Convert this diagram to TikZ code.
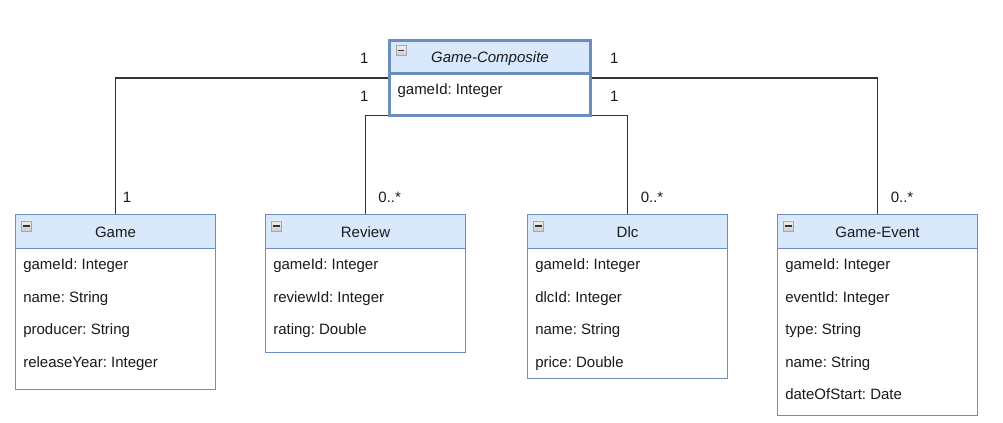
\documentclass[tikz,border=0pt]{standalone}
\usepackage{fontspec}
\setmainfont{Liberation Sans}
\usepackage{tikz}
\usetikzlibrary{calc,backgrounds}
\frenchspacing

\definecolor{umlline}{HTML}{6C8EBF}
\definecolor{umlfill}{HTML}{DAE8FC}
\definecolor{linkgray}{HTML}{333333}
\definecolor{textgray}{HTML}{1A1A1A}

\tikzset{
  every node/.style={font=\fontsize{11.25}{13.5}\selectfont, text=textgray},
  classbody/.style={draw=umlline, fill=white, line width=0.75pt, outer sep=0pt,
    inner sep=0pt, anchor=north, minimum width=150pt, minimum height=#1*0.75pt},
  classhead/.style={draw=umlline, fill=umlfill, line width=0.75pt, outer sep=0pt,
    inner sep=0pt, anchor=north, minimum width=150pt, minimum height=25.1pt,
    text height=8pt, text depth=0pt},
  collapse/.style={draw=gray!70, top color=gray!12, bottom color=gray!40,
    line width=0.5pt, inner sep=0pt, minimum size=7.5pt,
    path picture={\draw[linkgray, line width=0.9pt]
      ([xshift=1.3pt]path picture bounding box.west) --
      ([xshift=-1.3pt]path picture bounding box.east);}},
  attr/.style={anchor=base west, inner sep=0pt},
  mult/.style={anchor=base, inner sep=0pt},
  link/.style={draw=linkgray, line width=1pt},
}

\begin{document}
\begin{tikzpicture}[x=0.75pt, y=-0.75pt]
  \useasboundingbox (0,0) rectangle (1003,423);

  % composite key
  \node[classbody=74.7, line width=2.25pt, minimum width=150.3pt] (comp) at (490,40.5) {};
  \node[classhead, line width=2.25pt, minimum width=150.3pt, minimum height=24.6pt]
    (comp-head) at (comp.north) {\itshape Game-Composite};
  \node[collapse] (comp-icon) at ($(comp.north west)+(11.2,10)$) {};
  \node[attr] (comp-a1) at ($(comp.north west)+(7.5,53.8)$) {gameId: Integer};

  % classes
  \node[classbody=175] (game) at (115.5,215) {};
  \node[classhead] (game-head) at (game.north) {Game};
  \node[collapse] (game-icon) at ($(game.north west)+(11,11)$) {};
  \foreach \t [count=\i] in {gameId: Integer, name: String, producer: String, releaseYear: Integer}
    \node[attr] (game-a\i) at ($(game.north west)+(7.5,22.5+32.5*\i)$) {\t};

  \node[classbody=137.7] (review) at (365.5,215) {};
  \node[classhead] (review-head) at (review.north) {Review};
  \node[collapse] (review-icon) at ($(review.north west)+(11,11)$) {};
  \foreach \t [count=\i] in {gameId: Integer, reviewId: Integer, rating: Double}
    \node[attr] (review-a\i) at ($(review.north west)+(7.5,22.5+32.5*\i)$) {\t};

  \node[classbody=163.3] (dlc) at (627.5,215) {};
  \node[classhead] (dlc-head) at (dlc.north) {Dlc};
  \node[collapse] (dlc-icon) at ($(dlc.north west)+(11,11)$) {};
  \foreach \t [count=\i] in {gameId: Integer, dlcId: Integer, name: String, price: Double}
    \node[attr] (dlc-a\i) at ($(dlc.north west)+(7.5,22.5+32.5*\i)$) {\t};

  \node[classbody=200.7] (event) at (877.5,215) {};
  \node[classhead] (event-head) at (event.north) {Game-Event};
  \node[collapse] (event-icon) at ($(event.north west)+(11,11)$) {};
  \foreach \t [count=\i] in {gameId: Integer, eventId: Integer, type: String, name: String, dateOfStart: Date}
    \node[attr] (event-a\i) at ($(event.north west)+(7.5,22.5+32.5*\i)$) {\t};

  % associations
  \begin{scope}[on background layer]
    \draw[link] (comp.west) -| (game.north);
    \draw[link] (comp.south west) -| (review.north);
    \draw[link] (comp.south east) -| (dlc.north);
    \draw[link] (comp.east) -| (event.north);
  \end{scope}

  % multiplicities
  \node[mult] (m-comp-game) at ($(comp.west)+(-25.6,-13.85)$) {1};
  \node[mult] (m-comp-review) at ($(comp.west)+(-25.6,23.85)$) {1};
  \node[mult] (m-comp-event) at ($(comp.east)+(24,-13.85)$) {1};
  \node[mult] (m-comp-dlc) at ($(comp.east)+(24,23.85)$) {1};
  \node[mult] (m-game) at ($(game.north)+(11.5,-12.7)$) {1};
  \node[mult] (m-review) at ($(review.north)+(24.2,-12.7)$) {0..*};
  \node[mult] (m-dlc) at ($(dlc.north)+(24.5,-12.7)$) {0..*};
  \node[mult] (m-event) at ($(event.north)+(24.5,-12.7)$) {0..*};
\end{tikzpicture}
\end{document}
